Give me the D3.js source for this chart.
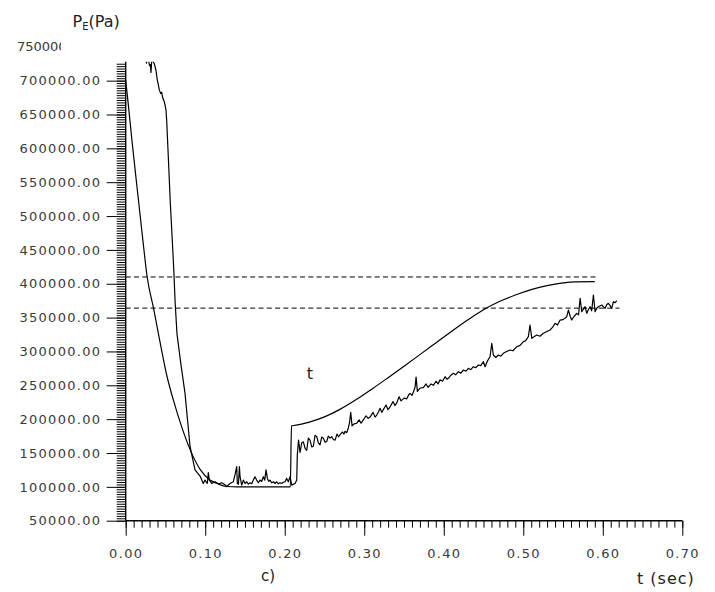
<!DOCTYPE html>
<html>
<head>
<meta charset="utf-8">
<script src="https://cdn.jsdelivr.net/npm/d3@7"></script>
<style>
  html, body { margin: 0; padding: 0; background: #fff; }
  svg { display: block; }
  text { font-family: "DejaVu Sans", sans-serif; }
</style>
</head>
<body>
<svg id="chart" width="715" height="592"></svg>
<script>
// Simulated pressure (smooth curve): time (s) and pressure (Pa)
const tSim = [0, 0.003, 0.008, 0.016, 0.022, 0.027, 0.035, 0.043, 0.052, 0.060, 0.070, 0.081,
  0.094, 0.106, 0.115, 0.127, 0.140, 0.207, 0.2085, 0.210, 0.230, 0.250, 0.270, 0.290, 0.310,
  0.330, 0.350, 0.370, 0.390, 0.410, 0.430, 0.450, 0.470, 0.490, 0.510, 0.530, 0.550, 0.565, 0.590];
const pSim = [700000, 668000, 610000, 524000, 460000, 410000, 364000, 315000, 263000, 228000, 190000, 155000,
  125000, 110000, 105000, 100500, 100000, 100000, 190000, 190300, 195300, 203300, 214800, 228900, 244700,
  261300, 278200, 295300, 312600, 329900, 346500, 361700, 373700, 383300, 391300, 397300, 401200, 402800, 403000];

// Measured pressure (noisy curve): time (s) and pressure (Pa)
const tMeas = [0.0200, 0.0262, 0.0270, 0.0300, 0.0310, 0.0318, 0.0328, 0.0345, 0.0360, 0.0381, 0.0397, 0.0410,
  0.0423, 0.0440, 0.0452, 0.0465, 0.0482, 0.0495, 0.0507, 0.0516, 0.0535, 0.0560, 0.0585, 0.0605, 0.0622,
  0.0645, 0.0690, 0.0746, 0.0809, 0.0830, 0.0872, 0.0935, 0.0976, 0.0997, 0.1026, 0.1039,
  0.1052, 0.1082, 0.1123, 0.1165, 0.1208, 0.1249, 0.1270, 0.1312, 0.1353, 0.1375, 0.1396, 0.1404, 0.1418,
  0.1430, 0.1438, 0.1459, 0.1480, 0.1501, 0.1522, 0.1543, 0.1564, 0.1585, 0.1605, 0.1626, 0.1647, 0.1668,
  0.1689, 0.1710, 0.1731, 0.1748, 0.1765, 0.1782, 0.1800, 0.1815, 0.1836, 0.1857, 0.1878, 0.1899, 0.1920,
  0.1941, 0.1962, 0.1983, 0.2004, 0.2025, 0.2045, 0.2067, 0.2088, 0.2110, 0.2130, 0.2151, 0.2158, 0.2174,
  0.2193, 0.2214, 0.2234, 0.2256, 0.2277, 0.2297, 0.2318, 0.2340, 0.2360, 0.2381, 0.2403, 0.2423, 0.2444,
  0.2465, 0.2486, 0.2507, 0.2528, 0.2548, 0.2570, 0.2591, 0.2612, 0.2633, 0.2658, 0.2677, 0.2696, 0.2727,
  0.2745, 0.2758, 0.2780, 0.2800, 0.2815, 0.2830, 0.2847, 0.2872, 0.2906, 0.2935, 0.2960, 0.2989, 0.3023,
  0.3048, 0.3073, 0.3111, 0.3136, 0.3157, 0.3180, 0.3199, 0.3220, 0.3240, 0.3274, 0.3299, 0.3325, 0.3362,
  0.3385, 0.3409, 0.3438, 0.3463, 0.3501, 0.3535, 0.3560, 0.3576, 0.3600, 0.3618, 0.3639, 0.3652, 0.3668,
  0.3702, 0.3743, 0.3777, 0.3803, 0.3840, 0.3869, 0.3903, 0.3928, 0.3953, 0.3985, 0.4016, 0.4040, 0.4058,
  0.4090, 0.4121, 0.4150, 0.4184, 0.4215, 0.4247, 0.4280, 0.4310, 0.4340, 0.4372, 0.4400, 0.4435, 0.4465,
  0.4498, 0.4519, 0.4550, 0.4582, 0.4604, 0.4624, 0.4655, 0.4687, 0.4718, 0.4750, 0.4790, 0.4834, 0.4870,
  0.4918, 0.4960, 0.5001, 0.5030, 0.5064, 0.5085, 0.5107, 0.5140, 0.5170, 0.5210, 0.5253, 0.5290, 0.5337,
  0.5370, 0.5400, 0.5430, 0.5463, 0.5500, 0.5547, 0.5567, 0.5590, 0.5610, 0.5640, 0.5673, 0.5695, 0.5715,
  0.5736, 0.5777, 0.5799, 0.5820, 0.5840, 0.5860, 0.5882, 0.5903, 0.5925, 0.5945, 0.5987, 0.6029, 0.6050,
  0.6070, 0.6090, 0.6113, 0.6133, 0.6155, 0.6176];
const pMeas = [770000, 726000, 742000, 722000, 724000, 712000, 731000, 728000, 725000, 715000, 701000, 694000,
  686000, 681000, 683000, 675000, 670000, 664000, 656000, 640000, 590000, 522000, 466000, 420000, 372000,
  326000, 285000, 238000, 160000, 148000, 125000, 116000, 105000, 110000, 105000, 121000,
  110000, 105000, 107500, 104500, 106000, 103000, 100500, 105000, 107500, 118000, 130000, 105000, 104000,
  130000, 115000, 102500, 110000, 105000, 107500, 104000, 106000, 104500, 110000, 115000, 110000, 106000,
  110000, 108000, 115000, 110000, 125000, 112500, 108000, 110000, 106000, 107500, 105000, 107500, 104500,
  106000, 105000, 107000, 107500, 112500, 107500, 115000, 102500, 104000, 105000, 110000, 147000, 169000,
  151000, 165000, 166500, 157000, 154000, 172000, 169000, 159000, 160000, 176000, 174000, 165000, 162000,
  173500, 171700, 166000, 167000, 175000, 172000, 174000, 170000, 169000, 178000, 174000, 177000, 181000,
  178000, 182000, 180000, 187000, 195000, 210000, 190000, 193000, 194000, 199000, 194000, 199000, 205000,
  201000, 203000, 210000, 203000, 206000, 211000, 216000, 210000, 214000, 221000, 214000, 218000, 226000,
  220000, 224000, 233000, 227000, 231000, 230000, 236000, 238000, 235000, 240000, 247000, 262000, 241000,
  246000, 246500, 252000, 247000, 252000, 250000, 256000, 252000, 258000, 256000, 262700, 259000, 260300,
  265000, 267700, 265500, 270100, 268000, 272600, 271000, 275100, 273000, 277500, 276000, 280000, 279000,
  284800, 277500, 286000, 292200, 312000, 294700, 291000, 294700, 293000, 297200, 300000, 302100, 301000,
  307000, 309000, 314400, 316000, 321800, 339100, 319400, 322000, 324300, 322500, 326800, 329000, 331700,
  336000, 341600, 339000, 346400, 347000, 351300, 361200, 352000, 346400, 352000, 356300, 354000, 378500,
  358700, 366100, 356300, 362000, 366100, 360000, 383400, 358700, 364000, 366100, 368600, 363700, 369000,
  371100, 368000, 363700, 373500, 372000, 375000];

// Dashed reference levels (Pa) and the time where each one stops
const refLevels = [410000, 364000];
const refEnds = [0.592, 0.621];

// Axis ticks
const xTicks = [0, 0.1, 0.2, 0.3, 0.4, 0.5, 0.6, 0.7];
const yTicks = [50000, 100000, 150000, 200000, 250000, 300000, 350000, 400000, 450000, 500000,
  550000, 600000, 650000, 700000];
const yTopLabel = 750000;
const yAxisEnd = 728000;

const svg = d3.select("#chart");

const x = d3.scaleLinear().domain([0, 0.7]).range([125.7, 682.3]);
const y = d3.scaleLinear().domain([50000, 750000]).range([520.7, 46.8]);

const labelColor = "#3a3a3a";
const fmt = d3.format(".2f");

// Plot clip (the y axis stops a little below its last labelled value)
svg.append("clipPath").attr("id", "plotClip")
  .append("rect")
  .attr("x", x(0)).attr("y", y(yAxisEnd))
  .attr("width", x(0.7) - x(0)).attr("height", y(50000) - y(yAxisEnd));

// ---- Y axis ----
const yMinor = d3.range(0, 200).map(i => 50000 + i * 50000 / 14).filter(v => v <= yAxisEnd);
const gyMinor = svg.append("g").attr("transform", `translate(${x(0)},0)`)
  .call(d3.axisLeft(y).tickValues(yMinor).tickSize(9).tickFormat(""));
gyMinor.select(".domain").remove();

const gy = svg.append("g").attr("transform", `translate(${x(0)},0)`)
  .call(d3.axisLeft(y).tickValues(yTicks).tickSize(19).tickPadding(5.3).tickFormat(fmt));
gy.select(".domain").remove();
gy.selectAll("text")
  .attr("font-family", "DejaVu Sans, sans-serif")
  .attr("font-size", 13)
  .attr("letter-spacing", "1.3px")
  .attr("fill", labelColor);
svg.selectAll(".tick line").attr("stroke", "#000").attr("stroke-width", 1);

// Axis line
svg.append("line")
  .attr("x1", x(0)).attr("x2", x(0))
  .attr("y1", y(50000)).attr("y2", y(yAxisEnd))
  .attr("stroke", "#000").attr("stroke-width", 1.4);

// Partly hidden top label
svg.append("clipPath").attr("id", "topLabelClip")
  .append("rect").attr("x", 0).attr("y", 0).attr("width", 61).attr("height", 70);
svg.append("text")
  .attr("clip-path", "url(#topLabelClip)")
  .attr("x", 17).attr("y", y(yTopLabel))
  .attr("dy", "0.36em")
  .attr("font-size", 13)
  .attr("fill", labelColor)
  .text(fmt(yTopLabel));

// ---- X axis ----
const xMinor = d3.range(0, 71).map(i => i / 100);
const gxMinor = svg.append("g").attr("transform", `translate(0,${y(50000)})`)
  .call(d3.axisBottom(x).tickValues(xMinor).tickSize(7).tickFormat(""));
gxMinor.select(".domain").remove();
gxMinor.selectAll(".tick line").attr("stroke", "#000");

const gx = svg.append("g").attr("transform", `translate(0,${y(50000)})`)
  .call(d3.axisBottom(x).tickValues(xTicks).tickSize(15).tickPadding(13).tickFormat(fmt));
gx.select(".domain").remove();
gx.selectAll(".tick line").attr("stroke", "#000");
gx.selectAll("text")
  .attr("font-family", "DejaVu Sans, sans-serif")
  .attr("font-size", 13)
  .attr("letter-spacing", "1.3px")
  .attr("fill", labelColor);

svg.append("line")
  .attr("x1", x(0)).attr("x2", x(0.7))
  .attr("y1", y(50000)).attr("y2", y(50000))
  .attr("stroke", "#000").attr("stroke-width", 1.4);

// ---- Reference lines ----
const plot = svg.append("g").attr("clip-path", "url(#plotClip)");
refLevels.forEach((lvl, i) => {
  plot.append("line")
    .attr("x1", x(0)).attr("x2", x(refEnds[i]))
    .attr("y1", y(lvl)).attr("y2", y(lvl))
    .attr("stroke", "#000").attr("stroke-width", 1)
    .attr("stroke-dasharray", "5,3.3");
});

// ---- Curves ----
const simData = tSim.map((t, i) => [t, pSim[i]]);
const measData = tMeas.map((t, i) => [t, pMeas[i]]);

plot.append("path")
  .datum(simData)
  .attr("fill", "none").attr("stroke", "#000").attr("stroke-width", 1.2)
  .attr("d", d3.line().x(d => x(d[0])).y(d => y(d[1])).curve(d3.curveMonotoneX));

plot.append("path")
  .datum(measData)
  .attr("fill", "none").attr("stroke", "#000").attr("stroke-width", 1.2)
  .attr("stroke-linejoin", "round")
  .attr("d", d3.line().x(d => x(d[0])).y(d => y(d[1])));

// ---- Titles and annotations ----
const title = svg.append("text")
  .attr("x", 72.5).attr("y", 27)
  .attr("font-family", "Liberation Sans, Arial, sans-serif")
  .attr("font-size", 16).attr("fill", "#222");
title.append("tspan").text("P");
title.append("tspan").attr("font-size", 10).attr("dy", 3).text("E");
title.append("tspan").attr("dy", -3).text("(Pa)");

svg.append("text")
  .attr("x", 310).attr("y", 379)
  .attr("text-anchor", "middle")
  .attr("font-family", "Liberation Sans, Arial, sans-serif")
  .attr("font-size", 16).attr("fill", "#222")
  .text("t");

svg.append("text")
  .attr("x", 268).attr("y", 581)
  .attr("text-anchor", "middle")
  .attr("font-family", "Liberation Sans, Arial, sans-serif")
  .attr("font-size", 15).attr("fill", "#222")
  .text("c)");

svg.append("text")
  .attr("x", 637).attr("y", 584)
  .attr("font-family", "Liberation Sans, Arial, sans-serif")
  .attr("font-size", 16).attr("letter-spacing", "1px").attr("fill", "#222")
  .text("t (sec)");
</script>
</body>
</html>
